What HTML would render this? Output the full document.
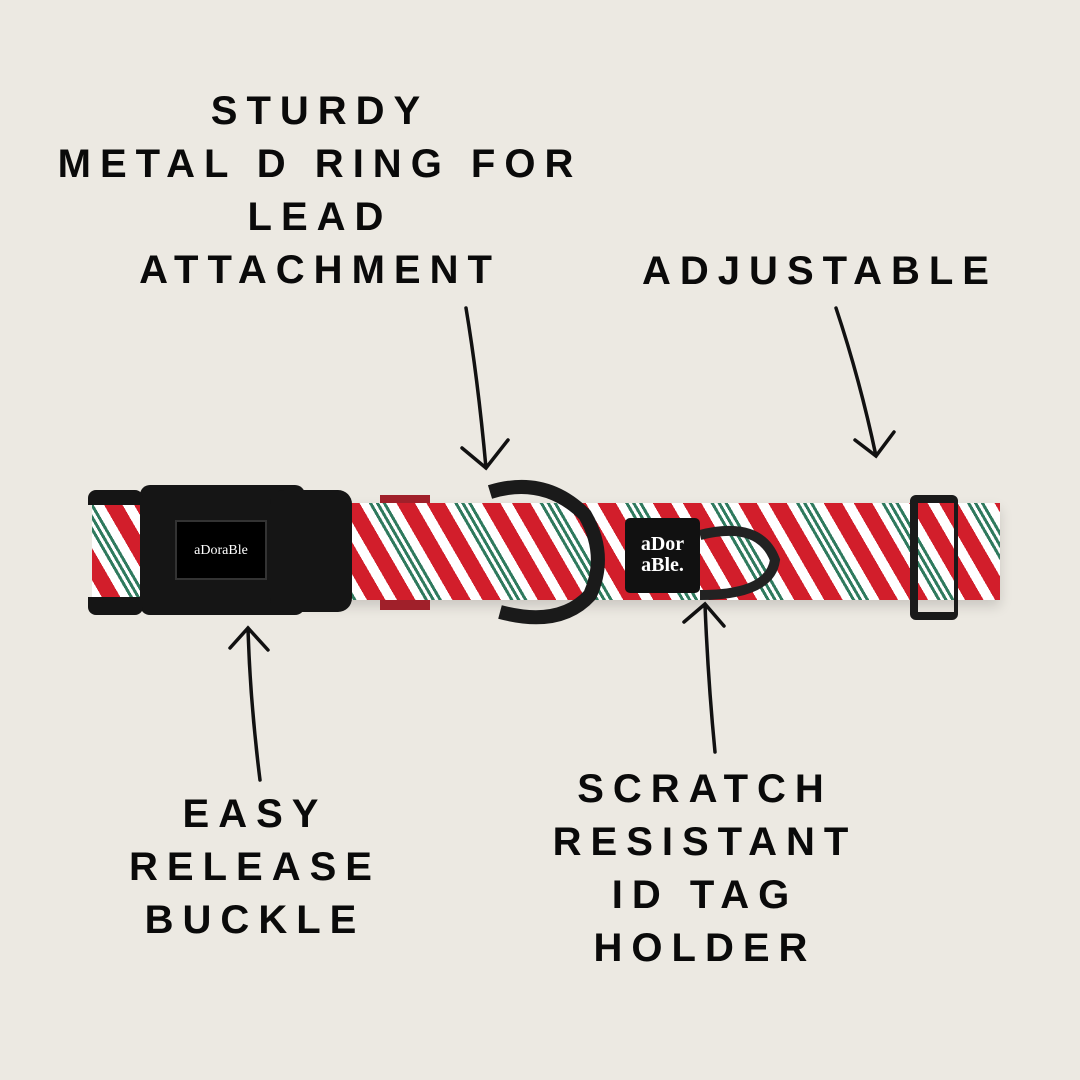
<!DOCTYPE html>
<html><head><meta charset="utf-8"><style>
html,body{margin:0;padding:0}
body{width:1080px;height:1080px;background:#ece9e2;position:relative;overflow:hidden;font-family:"Liberation Sans",Arial,sans-serif}
.t{position:absolute;font-weight:bold;font-size:40px;letter-spacing:9px;line-height:53px;text-align:center;color:#0a0a0a;white-space:nowrap}
.strap{position:absolute;background:repeating-linear-gradient(60deg,#fff 0 10px,#d21e2b 10px 26px,#fff 26px 34px,#2f7a5e 34px 37px,#fff 37px 40px,#2f7a5e 40px 43px,#fff 43px 46px,#2f7a5e 46px 49px,#fff 49px 58px,#d21e2b 58px 74px);}
.blk{position:absolute;background:#151515}
</style></head><body>
<div class="t" style="left:0;width:640px;top:85px">STURDY<br>METAL D RING FOR<br>LEAD<br>ATTACHMENT</div>
<div class="t" style="left:640px;width:360px;top:245px">ADJUSTABLE</div>
<div class="t" style="left:90px;width:330px;top:788px">EASY<br>RELEASE<br>BUCKLE</div>
<div class="t" style="left:535px;width:340px;top:763px">SCRATCH<br>RESISTANT<br>ID TAG<br>HOLDER</div>

<div class="strap" style="left:92px;top:500px;width:60px;height:100px"></div>
<div class="strap" style="left:300px;top:503px;width:700px;height:97px;box-shadow:0 6px 12px rgba(0,0,0,.15)"></div>
<div style="position:absolute;left:380px;top:495px;width:50px;height:115px;background:#a0202a;z-index:0"></div>
<div class="strap" style="left:300px;top:503px;width:290px;height:97px"></div>
<div class="blk" style="left:140px;top:485px;width:165px;height:130px;border-radius:10px"></div>
<div class="blk" style="left:270px;top:490px;width:82px;height:122px;border-radius:14px"></div>
<div class="blk" style="left:88px;top:490px;width:55px;height:15px;border-radius:8px 8px 0 0"></div>
<div class="blk" style="left:88px;top:597px;width:55px;height:18px;border-radius:0 0 8px 8px"></div>
<div style="position:absolute;left:175px;top:520px;width:92px;height:60px;background:#000;border:2px solid #333;color:#fff;font-family:'Liberation Serif',serif;font-size:14px;text-align:center;line-height:18px;box-sizing:border-box;padding-top:20px">aDoraBle</div>
<svg style="position:absolute;left:0;top:0" width="1080" height="1080">
<path d="M490 492 Q545 475 585 515 Q608 555 590 595 Q560 628 500 612" fill="none" stroke="#1a1a1a" stroke-width="14"/>
<path d="M466 308 Q478 380 486 468 M462 448 L486 468 L508 440" fill="none" stroke="#111" stroke-width="3.5" stroke-linecap="round"/>
<path d="M836 308 Q860 380 876 456 M855 440 L876 456 L894 432" fill="none" stroke="#111" stroke-width="3.5" stroke-linecap="round"/>
<path d="M260 780 Q250 700 248 628 M230 648 L248 628 L268 650" fill="none" stroke="#111" stroke-width="3.5" stroke-linecap="round"/>
<path d="M715 752 Q708 680 705 605 M684 622 L705 604 L724 626" fill="none" stroke="#111" stroke-width="3.5" stroke-linecap="round"/>
<path d="M700 535 Q760 520 775 560 Q770 595 700 595" fill="none" stroke="#222" stroke-width="10"/>
</svg>
<div style="position:absolute;left:625px;top:518px;width:75px;height:75px;background:#111;border-radius:5px;color:#fff;font-family:'Liberation Serif',serif;font-weight:bold;font-size:20px;line-height:21px;text-align:center;padding-top:16px;box-sizing:border-box">aDor<br>aBle.</div>
<div class="blk" style="left:910px;top:495px;width:48px;height:125px;border-radius:6px;background:transparent;border:8px solid #1a1a1a;border-right-width:4px;box-sizing:border-box"></div>
</body></html>
